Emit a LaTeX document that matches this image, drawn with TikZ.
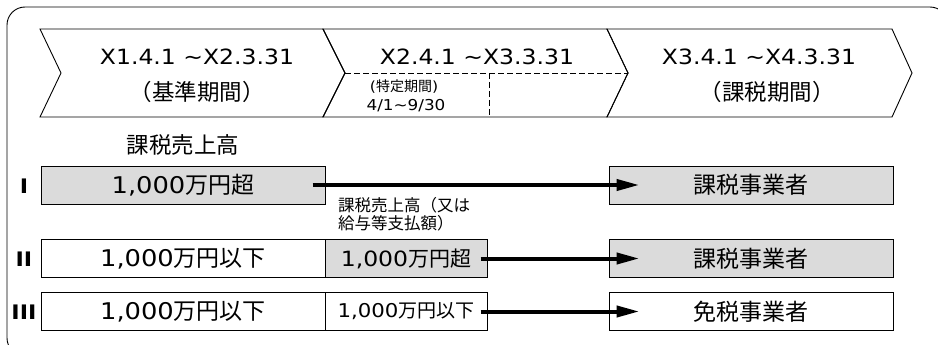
\documentclass[tikz,border=0pt]{standalone}
\usepackage{fontspec}
\setmainfont{DejaVu Sans}[FakeStretch=1.12]
\newfontfamily\cjk{Noto Sans CJK JP}
\usetikzlibrary{arrows.meta}
\definecolor{fond}{gray}{0.86}

\begin{document}
\begin{tikzpicture}[x=1pt,y=-1pt]
\tikzstyle{lien}=[-{Triangle[length=23pt,width=11pt]},line width=4pt]
\tikzstyle{periode}=[draw,line width=0.9pt,line join=miter]
\tikzset{case/.style={draw,line width=1pt,fill=#1,minimum height=38pt,inner sep=0pt,font=\fontsize{23}{27}\selectfont},
case/.default={white}}
\tikzstyle{titre}=[font=\fontsize{22.5}{27}\selectfont,inner sep=0pt]
\tikzstyle{petit}=[font=\fontsize{15}{18}\selectfont,inner sep=0pt]

\useasboundingbox (0,0) rectangle (938,345);
\clip (0,0) rectangle (938,345);
\draw[line width=0.9pt,rounded corners=18pt] (7,7) rectangle (948,356);

% les trois periodes
\draw[periode] (40,29) -- (323,29) -- (345,73) -- (323,117) -- (40,117) -- (61,73) -- cycle;
\draw[periode] (323,29) -- (607,29) -- (628,73) -- (607,117) -- (323,117) -- (345,73) -- cycle;
\draw[periode] (607,29) -- (892,29) -- (912,73) -- (892,117) -- (607,117) -- (628,73) -- cycle;
\draw[line width=0.8pt,dash pattern=on 6pt off 3pt] (345,73) -- (628,73);
\draw[line width=0.8pt,dash pattern=on 6pt off 3pt] (489,73) -- (489,117);

\node[titre,font=\fontsize{21}{25}\selectfont] (t1) at (197,57) {X1.4.1 \textasciitilde X2.3.31};
\node[titre] (t1b) at (197,92) {\cjk （基準期間）};
\node[titre,font=\fontsize{21}{25}\selectfont] (t2) at (477,57) {X2.4.1 \textasciitilde X3.3.31};
\node[petit,font=\fontsize{14}{17}\selectfont] (t2b) at (404,87) {({\cjk 特定期間})};
\node[petit] (t2c) at (406,106) {4/1\textasciitilde 9/30};
\node[titre,font=\fontsize{21}{25}\selectfont] (t3) at (759,57) {X3.4.1 \textasciitilde X4.3.31};
\node[titre] (t3b) at (767,92) {\cjk （課税期間）};

\node[titre] (ventes) at (183,145) {\cjk 課税売上高};

% cas I, II, III
\node[titre,font=\fontsize{20}{24}\selectfont\bfseries] (n1) at (24,186) {I};
\node[titre,font=\fontsize{20}{24}\selectfont\bfseries] (n2) at (24,259) {II};
\node[titre,font=\fontsize{20}{24}\selectfont\bfseries] (n3) at (24,312) {III};

\node[case=fond,minimum width=284pt] (A1) at (183,185) {1,000{\cjk 万円超}};
\node[case=fond,minimum width=284pt] (A3) at (751,185) {\cjk 課税事業者};
\node[case,minimum width=284pt] (B1) at (183,258.5) {1,000{\cjk 万円以下}};
\node[case=fond,minimum width=162pt,font=\fontsize{21}{25}\selectfont] (B2) at (406,258.5) {1,000{\cjk 万円超}};
\node[case=fond,minimum width=284pt] (B3) at (751,258.5) {\cjk 課税事業者};
\node[case,minimum width=284pt] (C1) at (183,311.5) {1,000{\cjk 万円以下}};
\node[case,minimum width=162pt,font=\fontsize{19}{23}\selectfont] (C2) at (406,311.5) {1,000{\cjk 万円以下}};
\node[case,minimum width=284pt] (C3) at (751,311.5) {\cjk 免税事業者};

\node[petit,font=\fontsize{16.5}{18}\selectfont\cjk,align=left,anchor=west] (note) at (338,214) {課税売上高（又は\\給与等支払額）};

\draw[lien] ([xshift=-13pt]A1.east) -- ([xshift=31pt]A3.west);
\draw[lien] ([xshift=-7pt]B2.east) -- ([xshift=31pt]B3.west);
\draw[lien] ([xshift=-7pt]C2.east) -- ([xshift=31pt]C3.west);

\end{tikzpicture}
\end{document}
